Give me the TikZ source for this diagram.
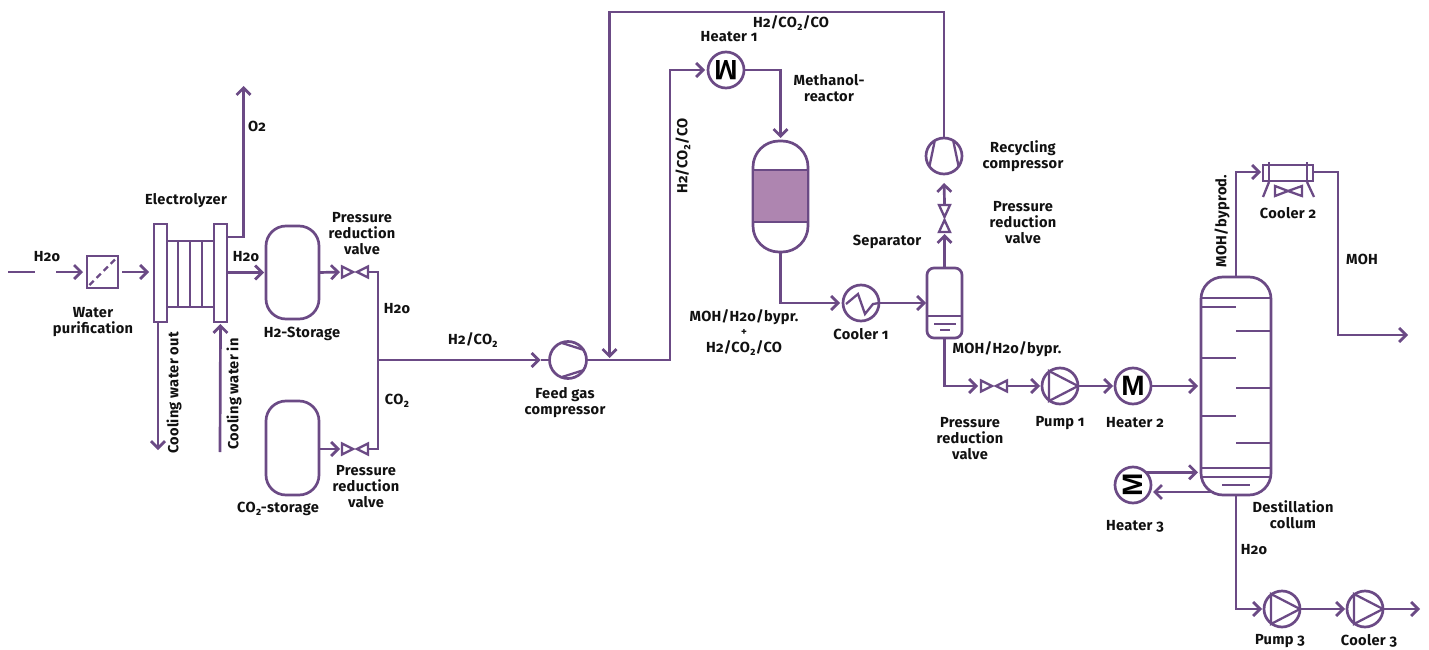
\documentclass[tikz,border=0pt]{standalone}
\usepackage{fontspec}
\setmainfont{Fira Sans}[Numbers=OldStyle,LetterSpace=2]
\newfontfamily\mfont{Liberation Sans}
\usetikzlibrary{arrows.meta,calc}
\definecolor{pur}{HTML}{6B4A85}
\definecolor{purfill}{HTML}{AE85B0}
\definecolor{ink}{HTML}{111111}
\tikzset{
  x=1pt,y=-1pt,
  ln/.style={draw=pur,line width=2.7pt,line join=miter},
  arr/.style={ln,-{Straight Barb[length=7pt,width=14pt,line width=2.7pt]}},
  shp/.style={ln,draw=pur,inner sep=0pt,outer sep=0pt,rectangle},
  round/.style={ln,draw=pur,circle,minimum size=36pt,inner sep=0pt,outer sep=0pt},
  anch/.style={inner sep=0pt,outer sep=0pt,rectangle},
  thn/.style={draw=pur,line width=2.3pt,line join=miter},
  lbl/.style={text=ink,font=\fontsize{14.6}{16}\selectfont\bfseries,align=center,inner sep=0pt,yshift=-1pt},
  mm/.style={text=black,font=\fontsize{28}{28}\selectfont\mfont\bfseries,inner sep=0pt},
}
\newcommand{\hvalve}[2]{%
  \node[anch,minimum width=26pt,minimum height=12pt] (#1) at (#2) {};
  \draw[thn] ($(#1.center)+(-13,-5.5)$) -- ($(#1.center)+(-2,0)$) -- ($(#1.center)+(-13,5.5)$) -- cycle;
  \draw[thn] ($(#1.center)+(13,-5.5)$) -- ($(#1.center)+(2,0)$) -- ($(#1.center)+(13,5.5)$) -- cycle;
}
\newcommand{\vvalve}[2]{%
  \node[anch,minimum width=12pt,minimum height=27pt] (#1) at (#2) {};
  \draw[thn] ($(#1.center)+(-5.5,-13.5)$) -- ($(#1.center)+(0,-1.5)$) -- ($(#1.center)+(5.5,-13.5)$) -- cycle;
  \draw[thn] ($(#1.center)+(-5.5,13.5)$) -- ($(#1.center)+(0,1.5)$) -- ($(#1.center)+(5.5,13.5)$) -- cycle;
}
\newcommand{\pumpsym}[1]{%
  \draw[thn] ($(#1.center)+(-11,-15)$) -- ($(#1.center)+(18,0)$) -- ($(#1.center)+(-11,15)$) -- cycle;
}
\begin{document}
\begin{tikzpicture}
\useasboundingbox (0,0) rectangle (1429,650);
% --- equipment
\node[shp,minimum width=31pt,minimum height=32pt] (wp) at (102.5,272) {};
\draw[thn,dash pattern=on 6pt off 4pt] ($(wp.center)+(-13,13)$) -- ($(wp.center)+(14,-14)$);
\node[shp,minimum width=13pt,minimum height=98pt] (pl) at (160.5,273) {};
\node[shp,minimum width=13pt,minimum height=98pt] (pr) at (220.5,273) {};
\node[anch,minimum width=47pt,minimum height=66pt] (stack) at (190.5,274) {};
\draw[thn] (stack.north west) -- (stack.north east) (stack.south west) -- (stack.south east);
\foreach \xx in {178,190,202} \draw[thn] (\xx,241) -- (\xx,307);
\node[shp,rounded corners=20pt,minimum width=53pt,minimum height=93pt] (t1) at (292.5,272.5) {};
\node[shp,rounded corners=20pt,minimum width=53pt,minimum height=94pt] (t2) at (292.5,448) {};
\hvalve{v1}{355,272}
\hvalve{v2}{355,449}
\node[round,minimum size=37pt] (feed) at (568,360) {};
\draw[thn] ($(feed.center)+(-6,-17)$) -- ($(feed.center)+(16,-10)$);
\draw[thn] ($(feed.center)+(-6,17)$) -- ($(feed.center)+(16,10)$);
\node[round] (h1) at (726,70) {};
\node[mm,rotate=180] at (h1.center) {M};
\node[shp,rounded corners=26pt,minimum width=55pt,minimum height=111pt] (reac) at (780.5,196.5) {};
\draw[ln,fill=purfill] (753,170) rectangle (808,222);
\node[round] (c1) at (861,303) {};
\draw[thn] ($(c1.center)+(-15,1)$) -- ($(c1.center)+(-3,-9)$) -- ($(c1.center)+(4,11)$) -- ($(c1.center)+(12,1)$) -- ($(c1.center)+(18,0)$);
\node[shp,rounded corners=7pt,minimum width=35pt,minimum height=70pt] (sep) at (944.5,303) {};
\draw[thn] (sep.west |- 0,316) -- (sep.east |- 0,316) (934,324) -- (956,324) (940,330) -- (950,330);
\vvalve{v3}{944.5,218.5}
\node[round] (rc) at (944,156) {};
\draw[thn] ($(rc.center)+(-9.5,-14)$) -- ($(rc.center)+(-14.5,10)$);
\draw[thn] ($(rc.center)+(9.5,-14)$) -- ($(rc.center)+(14.5,10)$);
\hvalve{v4}{994,386}
\node[round] (p1) at (1060,386) {};
\pumpsym{p1}
\node[round] (h2) at (1133,386) {};
\node[mm] at (h2.center) {M};
\node[shp,rounded corners=22pt,minimum width=70pt,minimum height=218pt] (col) at (1236,386) {};
\draw[thn] (col.west |- 0,298) -- (col.east |- 0,298);
\draw[thn] (col.west |- 0,468) -- (col.east |- 0,468);
\draw[thn] (col.west |- 0,477) -- (col.east |- 0,477);
\draw[thn] (1222,485) -- (1250,485);
\foreach \yy in {307,358,416} \draw[thn] (1201,\yy) -- (1236,\yy);
\foreach \yy in {331,388,443} \draw[thn] (1236,\yy) -- (1271,\yy);
\node[shp,minimum width=50pt,minimum height=16pt] (c2) at (1288,173) {};
\draw[thn] (1269,162) -- (1269,181) (1307,162) -- (1307,181);
\draw[thn] (1269,182) -- (1263,197) (1307,182) -- (1314,197);
\draw[thn] (1275,186) -- (1288,191) -- (1275,196) -- cycle;
\draw[thn] (1302,186) -- (1288,191) -- (1302,196) -- cycle;
\node[round] (h3) at (1133,485) {};
\node[mm,rotate=90] at (h3.center) {M};
\node[round] (p3) at (1282,609) {};
\pumpsym{p3}
\node[round] (c3) at (1365,609) {};
\pumpsym{c3}
% --- free ends and bends
\coordinate (in0) at (8,272);
\coordinate (in1) at (35,272);
\coordinate (in2) at (56,272);
\coordinate (o2e) at (243.5,86);
\coordinate (o2s) at (227,237);
\coordinate (jn) at (378,360);
\coordinate (top) at (609.5,12);
\coordinate (fj) at (609.5,360);
\coordinate (up) at (670,360);
\coordinate (cwo) at (158,450);
\coordinate (cwi) at (220,452);
\coordinate (colout) at (1236,172);
\coordinate (c2bend) at (1338,172);
\coordinate (mohe) at (1408,335);
\coordinate (c3e) at (1420,609);
\coordinate (h3ret) at (1214,492);
% --- connectors
\draw[ln] (in0) -- (in1);
\draw[arr] (in2) -- ([xshift=-4pt]wp.west);
\draw[arr,shorten <=4pt,shorten >=5pt] (wp.east) -- (pl.west |- wp.east);
\draw[arr] (o2s) -| (o2e);
\draw[arr,shorten >=2pt] (pr.east |- t1.west) -- (t1.west);
\draw[arr,shorten >=2pt] (t1.east) -- (v1.west);
\draw[arr,shorten >=2pt] (t2.east |- v2.west) -- (v2.west);
\draw[ln] (v1.east) -| (jn);
\draw[ln] (v2.east) -| (jn);
\draw[arr,shorten >=9pt] (jn) -- (feed.west);
\draw[ln] ([xshift=-9pt]feed.west) -- (feed.west);
\draw[arr,shorten >=3pt] (feed.east) -- (up) |- (h1.west);
\draw[arr,shorten >=3pt] (h1.east) -| (reac.north);
\draw[arr,shorten >=3pt] (reac.south) |- (c1.west);
\draw[arr,shorten >=1pt] (c1.east) -- (sep.west |- c1.east);
\draw[arr,shorten >=2pt] (sep.north) -- (v3.south);
\draw[arr,shorten <=1pt,shorten >=9pt] (v3.north) -- (rc.south);
\draw[arr,shorten >=2pt] (rc.north) |- (top) -- (fj);
\draw[arr,shorten >=3pt] (sep.south) |- (v4.west);
\draw[arr,shorten >=2pt] (v4.east) -- (p1.west);
\draw[arr,shorten >=2pt] (p1.east) -- (h2.west);
\draw[arr,shorten >=3pt] (h2.east) -- (col.west);
\draw[arr,shorten >=3pt] (h3.45) -- (h3.45 -| col.west);
\draw[arr,shorten >=2pt] (h3ret) -- (h3ret -| h3.east);
\draw[arr,shorten >=2pt] (col.north) -- (colout) -- (c2.west |- colout);
\draw[arr] (c2.east |- c2bend) -- (c2bend) |- (mohe);
\draw[arr] (pl.south -| cwo) -- (cwo);
\draw[arr,shorten >=2pt] (cwi) -- (pr.south);
\draw[arr,shorten >=2pt] (col.south) |- (p3.west);
\draw[arr,shorten >=2pt] (p3.east) -- (c3.west);
\draw[arr] (c3.east) -- (c3e);
% --- labels
\node[lbl] (l1) at (47,256) {H2o};
\node[lbl] (l2) at (93,321) {Water\\purification};
\node[lbl] (l3) at (186,200) {Electrolyzer};
\node[lbl] (l4) at (257,125) {O2};
\node[lbl] (l5) at (246,256) {H2o};
\node[lbl] (l6) at (302,333) {H2-Storage};
\node[lbl] (l7) at (362,233) {Pressure\\reduction\\valve};
\node[lbl] (l8) at (397,308) {H2o};
\node[lbl] (l9) at (397,400) {CO₂};
\node[lbl] (l10) at (366,485.5) {Pressure\\reduction\\valve};
\node[lbl] (l11) at (278,508) {CO₂-storage};
\node[lbl,rotate=90] (l12) at (174,392) {Cooling water out};
\node[lbl,rotate=90] (l13) at (234,393) {Cooling water in};
\node[lbl] (l14) at (473,339) {H2/CO₂};
\node[lbl] (l15) at (565,401.5) {Feed gas\\compressor};
\node[lbl,rotate=90] (l16) at (683,155) {H2/CO₂/CO};
\node[lbl] (l17) at (791,22) {H2/CO₂/CO};
\node[lbl] (l18) at (729,36) {Heater 1};
\node[lbl] (l19) at (829,87) {Methanol-\\reactor};
\node[lbl] (l20) at (744,316) {MOH/H2o/bypr.};
\node[lbl,font=\fontsize{11}{11}\selectfont\bfseries] (l21) at (744,331) {+};
\node[lbl] (l22) at (744,347) {H2/CO₂/CO};
\node[lbl] (l23) at (861,333) {Cooler 1};
\node[lbl] (l24) at (887,241) {Separator};
\node[lbl] (l25) at (1023,155.5) {Recycling\\compressor};
\node[lbl] (l26) at (1023,222) {Pressure\\reduction\\valve};
\node[lbl] (l27) at (1007,348) {MOH/H2o/bypr.};
\node[lbl] (l28) at (970,438) {Pressure\\reduction\\valve};
\node[lbl] (l29) at (1060,422) {Pump 1};
\node[lbl] (l30) at (1135,422) {Heater 2};
\node[lbl] (l31) at (1135,525) {Heater 3};
\node[lbl] (l32) at (1293,514) {Destillation\\collum};
\node[lbl] (l33) at (1254,549) {H2o};
\node[lbl] (l34) at (1280,640) {Pump 3};
\node[lbl] (l35) at (1369,640) {Cooler 3};
\node[lbl] (l36) at (1288,212) {Cooler 2};
\node[lbl] (l37) at (1362,258) {MOH};
\node[lbl,rotate=90] (l38) at (1222,220) {MOH/byprod.};
\end{tikzpicture}
\end{document}
